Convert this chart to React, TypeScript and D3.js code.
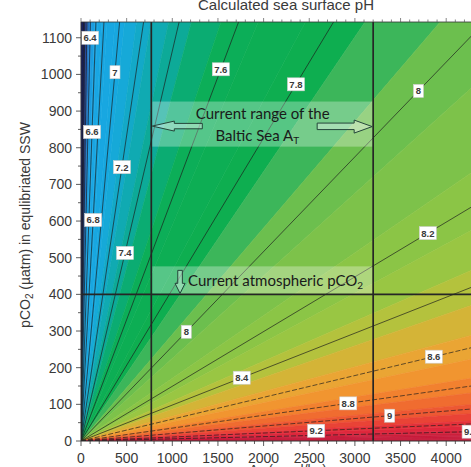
import React from 'react';
import * as d3 from 'd3';

// pH isolines are rays through the origin: each level has a fixed AT / pCO2 ratio
const PH_LEVELS = [5.8, 6.0, 6.2, 6.4, 6.6, 6.8, 7.0, 7.2, 7.4, 7.6, 7.8, 8.0, 8.2, 8.4, 8.6, 8.8, 9.0, 9.2, 9.4];
const AT_PER_PCO2 = [0.023, 0.036, 0.057, 0.09, 0.143, 0.22, 0.37, 0.6, 0.94, 1.51, 2.42, 3.87, 6.7, 10.2, 16.8, 28.5, 49, 92, 168];

// inline isoline labels: pH level and the pCO2 where the label sits on its line
const LABEL_PH = [6.4, 6.6, 6.8, 7, 7.2, 7.4, 7.6, 7.8, 8, 8, 8.2, 8.4, 8.6, 8.8, 9, 9.2, 9.4];
const LABEL_PCO2 = [1100, 843, 603, 1006, 747, 513, 1014, 973, 955, 298, 567, 172.6, 230, 102.7, 69, 28, 25.4];

// colour map for the filled pH bands (band centre -> colour)
const COLOR_PH = [5.9, 6.1, 6.2, 6.3, 6.4, 6.5, 6.6, 7.0, 7.1, 7.2, 7.3, 7.4, 7.5, 7.6, 7.8, 7.9, 8.0, 8.1, 8.2, 8.3, 8.4, 8.5, 8.6, 8.7, 8.8, 8.9, 9.0, 9.1, 9.2, 9.3, 9.4, 9.6];
const COLOR_HEX = ['#1b2468', '#253d8c', '#2856a8', '#2470c0', '#1f88d3', '#1b9cdf', '#1aa5e4', '#17a8e0', '#16a9d8', '#13a9c8', '#10aab2', '#0daa98', '#0bac72', '#0cae58', '#0eae50', '#3cb65a', '#6cbf4e', '#7dc24a', '#8bc546', '#99c643', '#b4c23d', '#d4b437', '#eaa534', '#f19530', '#f2812f', '#f06c30', '#ed5833', '#e94336', '#e4323a', '#df283c', '#d6243c', '#c81d3c'];

const X_TICKS = [0, 500, 1000, 1500, 2000, 2500, 3000, 3500, 4000];
const Y_TICKS = [0, 100, 200, 300, 400, 500, 600, 700, 800, 900, 1000, 1100];

// current Baltic Sea alkalinity range and atmospheric pCO2
const BALTIC_AT = [770, 3200];
const ATM_PCO2 = 400;
const BALTIC_BOX_PCO2 = [803, 926];

const AT_MAX = 4500;
const PCO2_MAX = 1143;

const W = 471;
const H = 467;

const x = d3.scaleLinear().domain([0, AT_MAX]).range([81, 81 + AT_MAX * 0.0913]);
const y = d3.scaleLinear().domain([0, PCO2_MAX]).range([441, 22]);

const logRatio = d3.scaleLinear().domain(PH_LEVELS).range(AT_PER_PCO2.map((r) => Math.log10(r)));
const ratioAt = (ph: number) => Math.pow(10, logRatio(ph));

const color = d3
  .scaleLinear<string>()
  .domain(COLOR_PH)
  .range(COLOR_HEX)
  .interpolate(d3.interpolateRgb)
  .clamp(true);

// end point of a ray with the given AT/pCO2 ratio on the plot boundary
function rayEnd(r: number): [number, number] {
  if (r === 0) return [0, PCO2_MAX];
  if (!isFinite(r)) return [AT_MAX, 0];
  if (r * PCO2_MAX <= AT_MAX) return [r * PCO2_MAX, PCO2_MAX];
  return [AT_MAX, AT_MAX / r];
}

const thresholds = d3.range(5.45, 10.0, 0.1).map((t) => Math.round(t * 100) / 100);
const bands = (() => {
  const edges = [-Infinity, ...thresholds, Infinity];
  const out: { pts: [number, number][]; fill: string }[] = [];
  for (let i = 0; i < edges.length - 1; i++) {
    const a = edges[i];
    const b = edges[i + 1];
    const centre = !isFinite(a) ? b - 0.05 : !isFinite(b) ? a + 0.05 : (a + b) / 2;
    const r1 = !isFinite(a) ? 0 : ratioAt(a);
    const r2 = !isFinite(b) ? Infinity : ratioAt(b);
    const e1 = rayEnd(r1);
    const e2 = rayEnd(r2);
    const pts: [number, number][] = [[0, 0], e1];
    if (e1[1] === PCO2_MAX && e2[0] === AT_MAX && e2[1] !== PCO2_MAX) pts.push([AT_MAX, PCO2_MAX]);
    pts.push(e2);
    out.push({ pts, fill: color(centre) });
  }
  return out;
})();

const polyPath = (pts: [number, number][]) =>
  'M' + pts.map(([a, p]) => `${x(a).toFixed(2)},${y(p).toFixed(2)}`).join('L') + 'Z';

const AXIS_FONT = "'Liberation Sans', Arial, Helvetica, sans-serif";
const NOTE_FONT = "Lato, 'Open Sans', sans-serif";

export default function App() {
  const px0 = x(0);
  const py0 = y(0);
  const pyTop = y(PCO2_MAX);
  const xl = x(BALTIC_AT[0]);
  const xr = x(BALTIC_AT[1]);
  const yAtm = y(ATM_PCO2);
  const boxTop = y(BALTIC_BOX_PCO2[1]);
  const boxBot = y(BALTIC_BOX_PCO2[0]);
  const arrowY = (boxTop + boxBot) / 2 + 2;

  const leftArrow = [
    [xl + 1, arrowY],
    [xl + 23, arrowY - 5],
    [xl + 23, arrowY - 2.7],
    [xl + 51, arrowY - 2.7],
    [xl + 51, arrowY + 2.7],
    [xl + 23, arrowY + 2.7],
    [xl + 23, arrowY + 5],
  ];
  const rightArrow = [
    [xr - 1, arrowY + 0.5],
    [xr - 19, arrowY - 6],
    [xr - 19, arrowY - 3],
    [xr - 56, arrowY - 3],
    [xr - 56, arrowY + 3.5],
    [xr - 19, arrowY + 3.5],
    [xr - 19, arrowY + 7],
  ];
  const ax = x(1085);
  const downArrow = [
    [ax, yAtm - 1],
    [ax - 5, yAtm - 11],
    [ax - 2.3, yAtm - 11],
    [ax - 2.3, yAtm - 24],
    [ax + 2.3, yAtm - 24],
    [ax + 2.3, yAtm - 11],
    [ax + 5, yAtm - 11],
  ];
  const pts = (p: number[][]) => p.map((q) => q.join(',')).join(' ');

  const xMinor = d3.range(0, AT_MAX + 1, 100);
  const yMinor = d3.range(0, PCO2_MAX, 50);

  return (
    <svg
      width={W}
      height={H}
      style={{ position: 'absolute', left: 0, top: 0, background: '#fff' }}
      fontFamily={AXIS_FONT}
    >
      <defs>
        <clipPath id="plotArea">
          <rect x={px0} y={pyTop} width={x(AT_MAX) - px0} height={py0 - pyTop} />
        </clipPath>
      </defs>

      <g clipPath="url(#plotArea)">
        {bands.map((b, i) => (
          <path key={i} d={polyPath(b.pts)} fill={b.fill} stroke={b.fill} strokeWidth={0.6} />
        ))}

        {PH_LEVELS.map((ph, i) => {
          const e = rayEnd(AT_PER_PCO2[i]);
          return (
            <line
              key={ph}
              x1={x(0)}
              y1={y(0)}
              x2={x(e[0])}
              y2={y(e[1])}
              stroke="#1c1c1c"
              strokeOpacity={0.85}
              strokeWidth={0.8}
              strokeDasharray={ph >= 8.6 ? '5,2' : undefined}
            />
          );
        })}

        {LABEL_PH.map((ph, i) => {
          const p = LABEL_PCO2[i];
          const a = ratioAt(ph) * p;
          const txt = String(ph);
          const w = txt.length === 1 ? 10 : 17;
          return (
            <g key={i} transform={`translate(${x(a)},${y(p)})`}>
              <rect x={-w / 2} y={-6.5} width={w} height={13} fill="#fff" stroke="#cfcfcf" strokeWidth={0.6} />
              <text
                textAnchor="middle"
                dy="3.4"
                fontSize={9.5}
                fontWeight="bold"
                fill="#3a3a3a"
              >
                {txt}
              </text>
            </g>
          );
        })}

        {/* Baltic Sea alkalinity range and atmospheric pCO2 */}
        <line x1={xl} x2={xl} y1={pyTop} y2={py0} stroke="#262626" strokeWidth={1.7} />
        <line x1={xr} x2={xr} y1={pyTop} y2={py0} stroke="#262626" strokeWidth={1.7} />
        <line x1={px0} x2={W} y1={yAtm} y2={yAtm} stroke="#262626" strokeWidth={1.7} />

        <rect x={xl + 1} y={boxTop} width={xr - xl - 2} height={boxBot - boxTop} fill="#ffffff" fillOpacity={0.3} />
        <text x={(xl + xr) / 2 + 0.5} y={boxTop + 17} textAnchor="middle" fontFamily={NOTE_FONT} fontSize={15} fill="#1a1a1a">
          Current range of the
        </text>
        <text x={(xl + xr) / 2 - 5} y={boxTop + 39} textAnchor="middle" fontFamily={NOTE_FONT} fontSize={15} fill="#1a1a1a">
          Baltic Sea A
          <tspan fontSize={10} dy={3}>T</tspan>
        </text>
        <polygon points={pts(leftArrow)} fill="#ffffff" fillOpacity={0.35} stroke="#24463a" strokeWidth={1} />
        <polygon points={pts(rightArrow)} fill="#ffffff" fillOpacity={0.35} stroke="#24463a" strokeWidth={1} />

        <rect x={xl + 1} y={yAtm - 28} width={xr - xl - 2} height={27} fill="#ffffff" fillOpacity={0.3} />
        <polygon points={pts(downArrow)} fill="#ffffff" fillOpacity={0.35} stroke="#24463a" strokeWidth={1} />
        <text x={ax + 8} y={yAtm - 8.5} fontFamily={NOTE_FONT} fontSize={15} fill="#1a1a1a">
          Current atmospheric pCO
          <tspan fontSize={10} dy={3}>2</tspan>
        </text>
      </g>

      {/* frame */}
      <line x1={px0} x2={px0} y1={pyTop} y2={py0} stroke="#333" strokeWidth={1} />
      <line x1={px0} x2={W} y1={py0} y2={py0} stroke="#333" strokeWidth={1} />
      <line x1={px0} x2={W} y1={pyTop} y2={pyTop} stroke="#333" strokeWidth={0.8} />

      {/* x ticks, bottom and top */}
      {xMinor.map((v) => {
        const major = v % 500 === 0;
        return (
          <g key={v}>
            <line x1={x(v)} x2={x(v)} y1={py0} y2={py0 + (major ? 5 : 3)} stroke="#333" strokeWidth={0.8} />
            <line x1={x(v)} x2={x(v)} y1={pyTop} y2={pyTop - (major ? 4 : 2.5)} stroke="#555" strokeWidth={0.7} />
          </g>
        );
      })}
      {X_TICKS.map((v) => (
        <text key={v} x={x(v)} y={463} textAnchor="middle" fontSize={14} fill="#3a3a3a">
          {v}
        </text>
      ))}

      {/* y ticks */}
      {yMinor.map((v) => {
        const major = v % 100 === 0;
        return (
          <line key={v} x1={px0} x2={px0 - (major ? 5 : 3)} y1={y(v)} y2={y(v)} stroke="#333" strokeWidth={0.8} />
        );
      })}
      {Y_TICKS.map((v) => (
        <text key={v} x={72} y={y(v) + 5} textAnchor="end" fontSize={14} fill="#3a3a3a">
          {v}
        </text>
      ))}

      {/* titles */}
      <text x={286} y={10} textAnchor="middle" fontSize={15} fill="#3a3a3a">
        Calculated sea surface pH
      </text>
      <text x={288} y={475} textAnchor="middle" fontSize={14} fill="#3a3a3a">
        A
        <tspan fontSize={10} dy={3}>T</tspan>
        <tspan dy={-3}> (µmol/kg)</tspan>
      </text>
      <text transform="translate(30,225) rotate(-90)" textAnchor="middle" fontSize={14} fill="#3a3a3a">
        pCO
        <tspan fontSize={10} dy={3}>2</tspan>
        <tspan dy={-3}> (µatm) in equlibriated SSW</tspan>
      </text>
    </svg>
  );
}
